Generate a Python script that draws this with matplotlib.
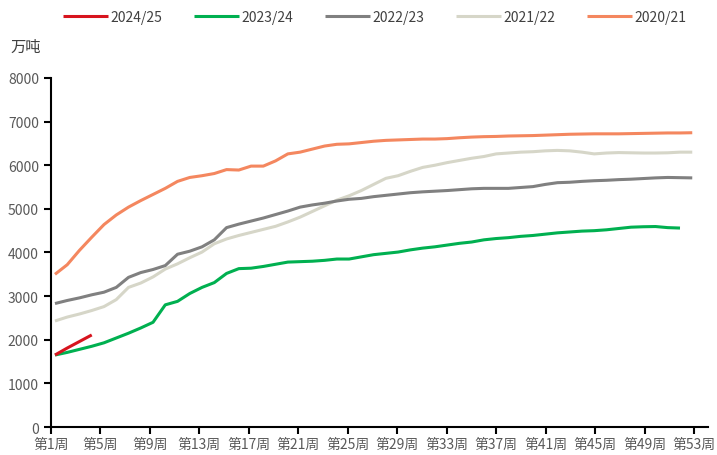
import numpy as np
import matplotlib
matplotlib.use("Agg")
import matplotlib.pyplot as plt

plt.rcParams['font.family'] = ['Noto Sans CJK SC', 'DejaVu Sans']

# weekly cumulative values, 万吨
season_2024 = [1650, 1810, 1960, 2110]
season_2023 = [1650, 1710, 1780, 1850, 1930, 2040, 2150, 2270, 2400, 2800,
               2880, 3060, 3200, 3310, 3520, 3630, 3640, 3680, 3730, 3780,
               3790, 3800, 3820, 3850, 3850, 3900, 3950, 3980, 4010, 4060,
               4100, 4130, 4170, 4210, 4240, 4290, 4320, 4340, 4370, 4390,
               4420, 4450, 4470, 4490, 4500, 4520, 4550, 4580, 4590, 4595,
               4570, 4560]
season_2022 = [2830, 2900, 2960, 3030, 3090, 3200, 3430, 3540, 3610, 3700,
               3960, 4030, 4130, 4290, 4570, 4650, 4720, 4790, 4870, 4950,
               5040, 5090, 5130, 5180, 5220, 5240, 5280, 5310, 5340, 5370,
               5390, 5405, 5420, 5440, 5460, 5470, 5470, 5470, 5490, 5510,
               5560, 5600, 5610, 5630, 5645, 5655, 5670, 5680, 5695, 5710,
               5720, 5715, 5710]
season_2021 = [2430, 2520, 2590, 2670, 2760, 2920, 3200, 3300, 3440, 3620,
               3740, 3880, 4010, 4200, 4310, 4390, 4460, 4530, 4600, 4700,
               4810, 4940, 5070, 5200, 5300, 5420, 5560, 5700, 5760, 5860,
               5950, 6000, 6060, 6110, 6160, 6200, 6260, 6280, 6300, 6310,
               6330, 6340, 6330, 6300, 6260, 6280, 6290, 6285, 6280, 6280,
               6285, 6300, 6300]
season_2020 = [3500, 3720, 4050, 4350, 4640, 4860, 5040, 5190, 5330, 5470,
               5630, 5720, 5760, 5810, 5900, 5890, 5980, 5980, 6100, 6260,
               6300, 6370, 6440, 6480, 6490, 6520, 6550, 6570, 6580, 6590,
               6600, 6600, 6610, 6630, 6645, 6655, 6660, 6670, 6675, 6680,
               6690, 6700, 6710, 6715, 6720, 6720, 6720, 6725, 6730, 6735,
               6740, 6740, 6745]

labels = ['2024/25', '2023/24', '2022/23', '2021/22', '2020/21']
week_labels = ['第%d周' % w for w in range(1, 54, 4)]

series = [season_2024, season_2023, season_2022, season_2021, season_2020]
colors = ['#D7141E', '#00B050', '#808080', '#D6D6C8', '#F4875F']

fig = plt.figure(figsize=(7.17, 4.56), dpi=100)
ax = fig.add_axes([0.0707, 0.0614, 0.917, 0.7654])

# draw oldest first so newer seasons are on top
for vals, c, lab in reversed(list(zip(series, colors, labels))):
    x = np.arange(1, len(vals) + 1)
    ax.plot(x, vals, color=c, lw=2.2, label=lab, solid_capstyle='butt')

ax.set_ylim(0, 8000)
ax.set_xlim(0.65, 54.3)
ax.set_yticks(range(0, 8001, 1000))
ax.set_xticks(0.65 + 4.04 * np.arange(len(week_labels)))
ax.set_xticklabels(week_labels)

for s in ['top', 'right']:
    ax.spines[s].set_visible(False)
for s in ['left', 'bottom']:
    ax.spines[s].set_linewidth(1.5)
ax.tick_params(axis='both', colors='black', width=1.5, length=5,
               labelsize=10, labelcolor='#595959')
ax.tick_params(axis='x', pad=2)

fig.text(0.014, 0.897, '万吨', fontsize=11, color='#404040', va='center')

handles, labs = ax.get_legend_handles_labels()
fig.legend(handles[::-1], labs[::-1], loc='center', bbox_to_anchor=(0.523, 0.96),
           ncol=5, frameon=False, handlelength=3.2, handletextpad=0.2,
           columnspacing=2.3, fontsize=10, labelcolor='#404040')

fig.savefig('out.png', dpi=100)
